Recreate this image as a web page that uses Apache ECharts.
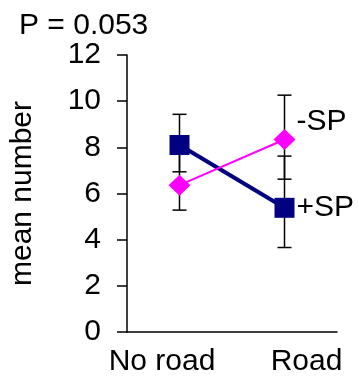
<!DOCTYPE html>
<html>
<head>
<meta charset="utf-8">
<script src="https://cdn.jsdelivr.net/npm/echarts@6/dist/echarts.min.js"></script>
<style>
  html, body { margin: 0; padding: 0; background: #fff; }
  #chart { width: 359px; height: 378px; }
</style>
</head>
<body>
<div id="chart"></div>
<script>
// Site categories
const categories = ['No road', 'Road'];

// +SP treatment: means and error-bar ends
const plusSP = [8.1, 5.38];
const plusSPLow = [6.94, 3.66];
const plusSPHigh = [9.43, 7.62];

// -SP treatment: means and error-bar ends
const minusSP = [6.36, 8.34];
const minusSPLow = [5.28, 6.62];
const minusSPHigh = [7.8, 10.26];

// Value axis range
const yMin = 0;
const yMax = 12;
const yStep = 2;

const pValueText = 'P = 0.053';
const yAxisTitle = 'mean number';

const FONT = '"Liberation Sans", Arial, Helvetica, sans-serif';
const FS = 30;

function errorBars(low, high) {
  return categories.map((c, i) => [i, low[i], high[i]]);
}

function renderErrorBar(params, api) {
  const x = api.value(0);
  const top = api.coord([x, api.value(2)]);
  const bot = api.coord([x, api.value(1)]);
  const half = 7;
  const style = { stroke: '#000', lineWidth: 1.5 };
  return {
    type: 'group',
    children: [
      { type: 'line', shape: { x1: top[0], y1: top[1], x2: bot[0], y2: bot[1] }, style },
      { type: 'line', shape: { x1: top[0] - half, y1: top[1], x2: top[0] + half, y2: top[1] }, style },
      { type: 'line', shape: { x1: bot[0] - half, y1: bot[1], x2: bot[0] + half, y2: bot[1] }, style }
    ]
  };
}

const chart = echarts.init(document.getElementById('chart'), null, { renderer: 'canvas' });

const catLabelStyle = { color: '#000', fontSize: FS, fontFamily: FONT };

chart.setOption({
  animation: false,
  backgroundColor: '#fff',
  textStyle: { fontFamily: FONT },
  title: {
    text: pValueText,
    left: 14,
    top: 6,
    textStyle: { fontFamily: FONT, fontSize: FS, fontWeight: 'normal', color: '#000' }
  },
  grid: { left: 127, right: 22, top: 55, bottom: 46, containLabel: false },
  xAxis: {
    type: 'category',
    data: categories,
    boundaryGap: true,
    axisLine: { lineStyle: { color: '#000', width: 1.5 } },
    axisTick: { show: false },
    axisLabel: {
      color: '#000',
      fontSize: FS,
      fontFamily: FONT,
      margin: 15,
      interval: 0,
      hideOverlap: false,
      // first label sits left of its category, the second right of it
      formatter: (v, i) => (i === 0 ? '{first|' + v + '}' : '{last|' + v + '}'),
      rich: {
        first: Object.assign({ padding: [0, 35, 0, 0] }, catLabelStyle),
        last: Object.assign({ padding: [0, 0, 0, 44] }, catLabelStyle)
      }
    },
    splitLine: { show: false }
  },
  yAxis: {
    type: 'value',
    min: yMin,
    max: yMax,
    interval: yStep,
    name: yAxisTitle,
    nameLocation: 'middle',
    nameGap: 89,
    nameRotate: 90,
    nameTextStyle: { color: '#000', fontSize: FS, fontFamily: FONT },
    axisLine: { show: true, lineStyle: { color: '#000', width: 1.5 } },
    axisTick: { show: true, inside: false, length: 10, lineStyle: { color: '#000', width: 1.5 } },
    axisLabel: { color: '#000', fontSize: FS, fontFamily: FONT, margin: 26 },
    splitLine: { show: false }
  },
  series: [
    {
      name: '+SP error',
      type: 'custom',
      renderItem: renderErrorBar,
      data: errorBars(plusSPLow, plusSPHigh),
      encode: { x: 0, y: [1, 2] },
      z: 1,
      silent: true
    },
    {
      name: '-SP error',
      type: 'custom',
      renderItem: renderErrorBar,
      data: errorBars(minusSPLow, minusSPHigh),
      encode: { x: 0, y: [1, 2] },
      z: 1,
      silent: true
    },
    {
      name: '+SP',
      type: 'line',
      data: plusSP,
      z: 2,
      symbol: 'rect',
      symbolSize: 20,
      itemStyle: { color: '#000080' },
      lineStyle: { color: '#000080', width: 4 },
      label: {
        show: true,
        position: 'right',
        distance: 2,
        color: '#000',
        fontSize: FS,
        fontFamily: FONT,
        formatter: (p) => (p.dataIndex === categories.length - 1 ? '+SP' : '')
      }
    },
    {
      name: '-SP',
      type: 'line',
      data: minusSP,
      z: 3,
      symbol: 'diamond',
      symbolSize: [22, 21],
      itemStyle: { color: '#ff00ff' },
      lineStyle: { color: '#ff00ff', width: 2 },
      label: {
        show: true,
        position: 'right',
        distance: 1,
        offset: [0, -18],
        color: '#000',
        fontSize: FS,
        fontFamily: FONT,
        formatter: (p) => (p.dataIndex === categories.length - 1 ? '-SP' : '')
      }
    }
  ]
});
</script>
</body>
</html>
